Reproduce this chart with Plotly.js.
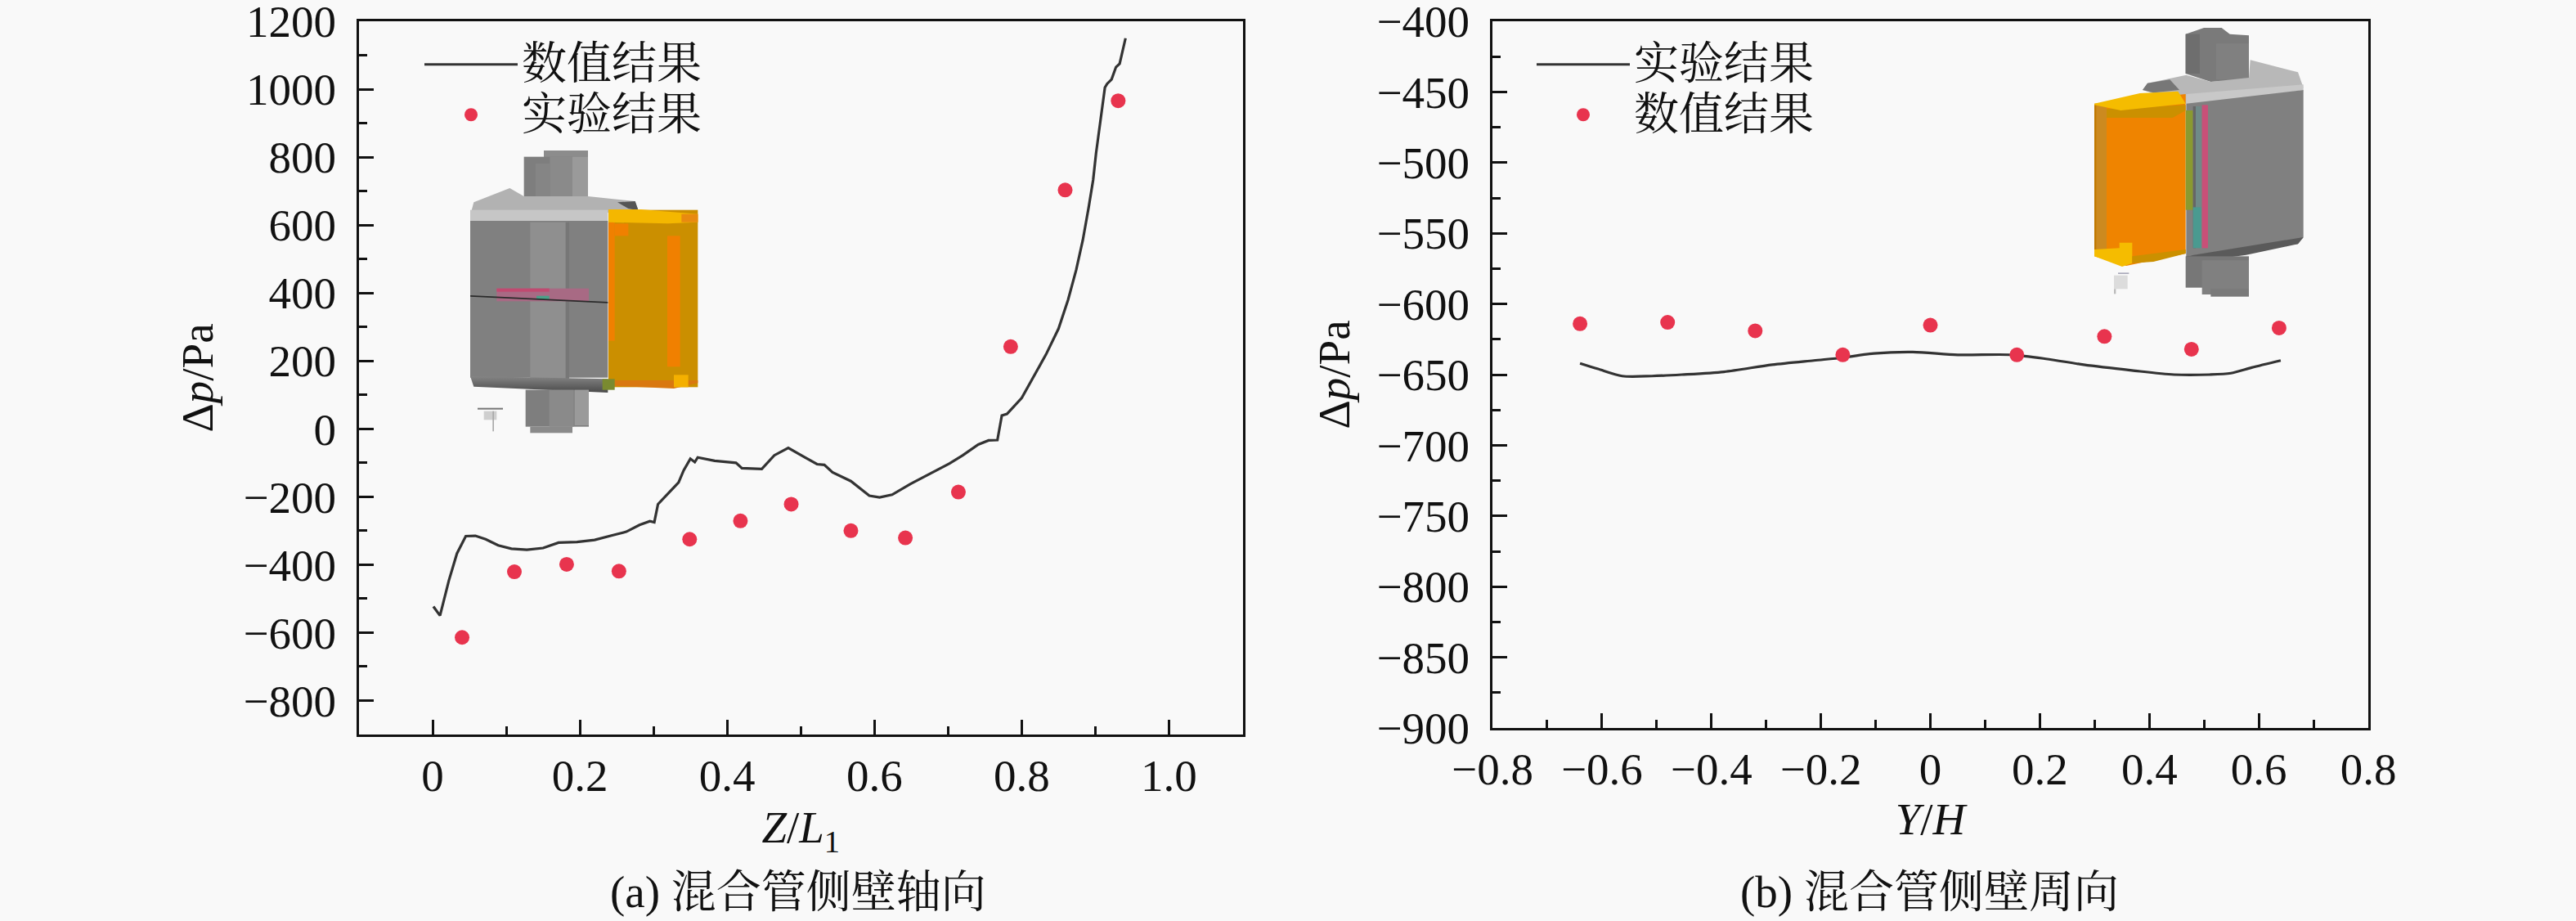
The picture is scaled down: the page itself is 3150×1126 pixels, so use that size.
<!DOCTYPE html>
<html><head><meta charset="utf-8">
<script src="https://cdn.plot.ly/plotly-3.0.1.min.js"></script>
<style>html,body{margin:0;padding:0;background:#f9f9f9}</style></head>
<body><div id="chart" style="width:3150px;height:1126px"></div>
<script>
// Panel (a)
const axialLineName = '数值结果';
const axialPointName = '实验结果';
const axialLineX = [0.001,0.010,0.022,0.033,0.045,0.058,0.072,0.089,0.107,0.128,0.150,0.171,0.196,0.220,0.245,0.263,0.281,0.295,0.301,0.306,0.320,0.334,0.341,0.350,0.356,0.360,0.383,0.412,0.420,0.447,0.464,0.483,0.504,0.522,0.532,0.543,0.568,0.593,0.607,0.624,0.649,0.678,0.702,0.720,0.741,0.755,0.767,0.773,0.780,0.800,0.820,0.833,0.850,0.863,0.874,0.883,0.891,0.897,0.901,0.908,0.913,0.916,0.922,0.928,0.933,0.941];
const axialLineY = [-523,-550,-447,-367,-316,-315,-325,-343,-353,-356,-351,-335,-333,-327,-313,-303,-283,-272,-275,-222,-190,-158,-122,-88,-98,-84,-94,-100,-116,-118,-78,-56,-82,-104,-106,-128,-154,-197,-202,-194,-162,-130,-102,-78,-46,-34,-33,39,44,91,171,219,295,380,468,556,653,733,812,918,1005,1016,1029,1065,1075,1150];
const axialPointX = [0.040,0.111,0.182,0.253,0.349,0.418,0.487,0.568,0.642,0.714,0.785,0.859,0.931];
const axialPointY = [-614,-421,-399,-419,-325,-271,-222,-300,-321,-186,242,703,966];
// Panel (b)
const circLineName = '实验结果';
const circPointName = '数值结果';
const circLineX = [-0.640,-0.607,-0.563,-0.509,-0.454,-0.377,-0.289,-0.213,-0.160,-0.103,-0.032,0.050,0.149,0.214,0.280,0.368,0.445,0.510,0.549,0.587,0.640];
const circLineY = [-642,-646,-651,-651,-650,-648,-643,-640,-638,-635,-634,-636,-636,-639,-643,-647,-650,-650,-649,-645,-640];
const circPointX = [-0.640,-0.480,-0.320,-0.160,0.000,0.158,0.318,0.477,0.637];
const circPointY = [-614,-613,-619,-636,-615,-636,-623,-632,-617];
// Axis ticks
const axialTicks = [0,0.2,0.4,0.6,0.8,1.0];
const axialTickText = ['0','0.2','0.4','0.6','0.8','1.0'];
const circTicks = [-0.8,-0.6,-0.4,-0.2,0,0.2,0.4,0.6,0.8];
const circTickText = ['−0.8','−0.6','−0.4','−0.2','0','0.2','0.4','0.6','0.8'];
const captionA = '(a) 混合管侧壁轴向';
const captionB = '(b) 混合管侧壁周向';

const W=3150,H=1126;
const FONT='"Liberation Serif","Noto Serif CJK SC","Noto Sans CJK SC",serif';
const INK='#111111', DOT='#e8344e', LINE='#333333', BG='#f9f9f9';
const SZ=55;
const legName=s=>'<span style="font-size:'+SZ+'px">'+s+'</span>';

function svgUri(vb,body){
  return 'data:image/svg+xml;charset=utf-8,'+encodeURIComponent(
   '<svg xmlns="http://www.w3.org/2000/svg" viewBox="'+vb+'" width="1080" height="1140" preserveAspectRatio="none">'+body+'</svg>');
}
const r=(x,y,x2,y2,c)=>`<rect x="${x}" y="${y}" width="${x2-x}" height="${y2-y}" fill="${c}"/>`;
const p=(pts,c)=>`<polygon points="${pts}" fill="${c}"/>`;
const insetA=svgUri('0 0 1080 1140',
 `<defs><linearGradient id="g" x1="0" y1="0" x2="0" y2="1"><stop offset="0" stop-color="#858585"/><stop offset="1" stop-color="#4a4a4a"/></linearGradient></defs>`+
 r(435,72,597,96,'#8c8c8c')+r(362,95,597,265,'#7e7e7e')+r(405,120,457,265,'#858585')+r(457,95,540,265,'#8a8a8a')+r(540,95,597,265,'#9a9a9a')+
 p('165,310 178,262 310,210 362,240 597,240 770,258 782,292 670,300','#b2b2b2')+p('705,262 770,258 782,292 745,285','#555')+
 r(165,290,670,332,'#c6c6c6')+
 r(165,330,670,905,'#808080')+r(385,335,525,910,'#8f8f8f')+r(515,335,528,910,'#777')+
 p('165,900 670,910 670,960 178,938','url(#g)')+
 r(368,950,600,1085,'#7e7e7e')+r(455,950,545,1085,'#8a8a8a')+r(548,950,600,1080,'#9a9a9a')+r(385,1085,540,1108,'#8a8a8a')+
 r(262,578,600,625,'#a86a84')+r(262,578,455,590,'#c04a70')+r(408,605,455,618,'#4aa088')+
 `<polygon points="165,603 670,627 670,632 165,608" fill="#2a2a2a"/>`+
 r(672,290,1000,940,'#cb8f00')+r(672,335,695,770,'#f08000')+r(888,385,935,865,'#f08000')+r(695,340,745,385,'#f08000')+
 p('672,288 790,288 1000,305 1000,335 890,340 672,335','#f4b700')+r(940,305,1000,335,'#e88a10')+
 p('695,915 1000,915 1000,925 912,945 695,935','#d97810')+r(912,895,965,940,'#f4b000')+r(650,910,695,950,'#7a8a30')+
 r(192,1016,285,1022,'#777')+r(215,1028,262,1060,'#cfcfcf')+r(247,1028,252,1102,'#aaa'));
const insetB=svgUri('0 0 1080 1080',
 p('518,65 585,42 650,42 680,65 750,70 750,232 610,240 518,210','#7a7a7a')+r(518,65,570,210,'#6e6e6e')+r(630,100,750,232,'#808080')+
 p('360,270 378,245 520,215 610,240 750,225 755,160 930,205 950,262 600,325 520,320','#b8b8b8')+
 p('520,285 950,250 950,270 600,325 520,320','#c8c8c8')+
 p('520,320 950,270 950,810 930,835 520,880','#808080')+
 p('520,880 950,810 930,835 740,875 520,905','#5a5a5a')+
 r(518,880,750,995,'#777')+r(578,895,750,1020,'#808080')+r(610,1000,750,1028,'#7a7a7a')+
 p('360,270 378,245 460,232 495,270 400,280','#777')+
 p('183,320 518,285 518,870 300,915 183,880','#ef8400')+r(183,322,228,860,'#cc8a20')+r(183,322,190,860,'#c07800')+
 p('228,340 518,325 518,345 470,372 228,372','#cb9000')+p('183,320 350,282 490,275 518,320 280,345 183,325','#f5bc00')+
 p('183,855 275,850 275,830 322,830 322,905 285,918 183,880','#f5bc00')+p('322,880 518,855 518,870 400,900 322,905','#cb9000')+
 r(518,345,545,710,'#8a9a30')+r(545,330,555,850,'#666')+r(555,330,575,700,'#6f8a88')+r(545,700,575,850,'#4a9a90')+r(578,325,600,850,'#c85078')+
 r(255,950,305,1000,'#dcdcdc')+r(255,1000,262,1018,'#bbb')+r(270,940,310,945,'#aab'));

const dom=(a,b,t)=>[a/t,b/t];
const xBase={showline:true,mirror:true,linecolor:INK,linewidth:3,ticks:'inside',tickcolor:INK,tickwidth:3,ticklen:18,ticklabeloverflow:'allow',
  showgrid:false,zeroline:false,tickmode:'array',tickfont:{family:FONT,size:SZ,color:INK},ticklabelstandoff:0};
const yBase={showline:true,mirror:true,linecolor:INK,linewidth:3,ticks:'inside',tickcolor:INK,tickwidth:3,ticklen:18,ticklabeloverflow:'allow',
  showgrid:false,zeroline:false,tickfont:{family:FONT,size:SZ,color:INK},ticklabelstandoff:14};
const minor={ticks:'inside',ticklen:10,tickwidth:3,tickcolor:INK,showgrid:false};
const ttl=(t,s)=>({text:t,font:{family:FONT,size:SZ,color:INK},standoff:s});

const traces=[
 {x:axialLineX,y:axialLineY,name:legName(axialLineName),mode:'lines',line:{color:LINE,width:3.2},xaxis:'x',yaxis:'y',legend:'legend'},
 {x:axialPointX,y:axialPointY,name:legName(axialPointName),mode:'markers',marker:{color:DOT,size:18},xaxis:'x',yaxis:'y',legend:'legend'},
 {x:circLineX,y:circLineY,name:legName(circLineName),mode:'lines',line:{color:LINE,width:3.2,shape:'spline',smoothing:0.8},xaxis:'x2',yaxis:'y2',legend:'legend2'},
 {x:circPointX,y:circPointY,name:legName(circPointName),mode:'markers',marker:{color:DOT,size:18},xaxis:'x2',yaxis:'y2',legend:'legend2'}
];
const leg=(x)=>({x:x/W,y:1-43/H,xref:'paper',yref:'paper',xanchor:'left',yanchor:'top',bgcolor:'rgba(0,0,0,0)',borderwidth:0,
  itemwidth:114,indentation:5,font:{family:FONT,size:45,color:INK},itemclick:false});
const layout={width:W,height:H,margin:{l:0,r:0,t:0,b:0,pad:0},autosize:false,paper_bgcolor:BG,plot_bgcolor:'rgba(0,0,0,0)',showlegend:true,
 xaxis:{...xBase,domain:dom(439,1519.5,W),range:[-0.1,1.1],tickvals:axialTicks,ticktext:axialTickText,minor:{...minor,dtick:0.1},title:ttl('\u00A0\u00A0<i>Z</i>/<i>L</i><sub>1</sub>',14),anchor:'y'},
 yaxis:{...yBase,domain:[(H-898)/H,(H-26)/H],range:[-900,1200],dtick:200,minor:{...minor,dtick:100},title:ttl('Δ<i>p</i>/Pa',20),anchor:'x'},
 xaxis2:{...xBase,domain:dom(1825,2896,W),range:[-0.8,0.8],tickvals:circTicks,ticktext:circTickText,minor:{...minor,dtick:0.1},title:ttl('<i>Y</i>/<i>H</i>',12),anchor:'y2'},
 yaxis2:{...yBase,domain:[(H-890)/H,(H-26)/H],range:[-900,-400],dtick:50,minor:{...minor,dtick:25},title:ttl('Δ<i>p</i>/Pa',16),anchor:'x2'},
 legend:leg(509),legend2:leg(1869),
 annotations:[
  {text:captionA,x:976/W,y:1-1090/H,xref:'paper',yref:'paper',xanchor:'center',yanchor:'middle',showarrow:false,font:{family:FONT,size:SZ,color:INK}},
  {text:captionB,x:2359/W,y:1-1090/H,xref:'paper',yref:'paper',xanchor:'center',yanchor:'middle',showarrow:false,font:{family:FONT,size:SZ,color:INK}}
 ],
 images:[
  {source:insetA,xref:'paper',yref:'paper',x:520/W,y:1-160/H,sizex:360/W,sizey:380/H,xanchor:'left',yanchor:'top',sizing:'stretch',layer:'above'},
  {source:insetB,xref:'paper',yref:'paper',x:2500/W,y:1-20/H,sizex:360/W,sizey:360/H,xanchor:'left',yanchor:'top',sizing:'stretch',layer:'above'}
 ]
};
Plotly.newPlot('chart',traces,layout,{displayModeBar:false,staticPlot:true});
</script></body></html>
